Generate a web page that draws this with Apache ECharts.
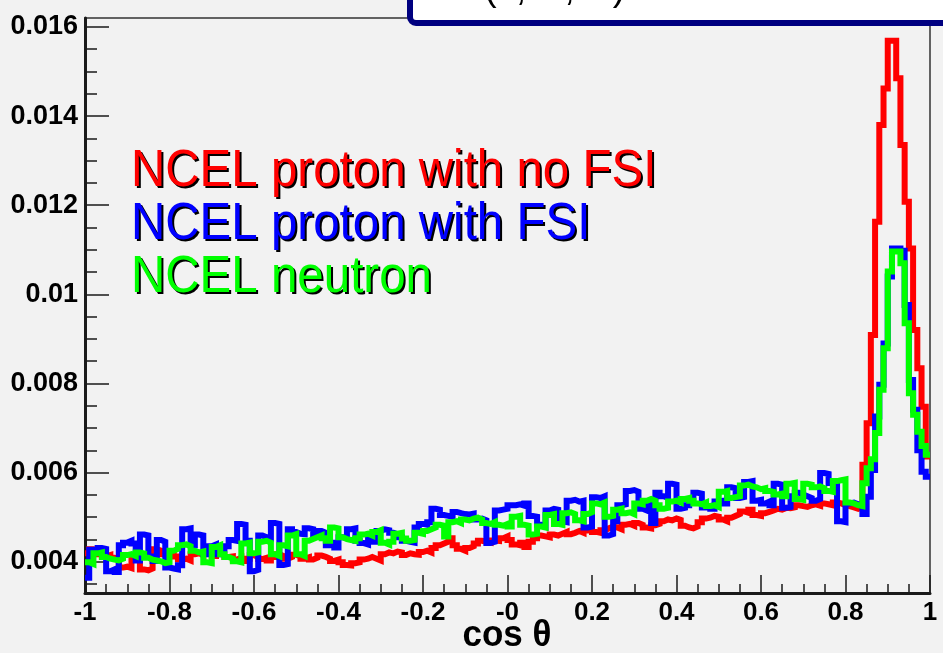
<!DOCTYPE html>
<html>
<head>
<meta charset="utf-8">
<script src="https://cdn.jsdelivr.net/npm/echarts@6/dist/echarts.min.js"></script>
<style>
  html, body { margin: 0; padding: 0; background: #f2f2f2; }
  #chart { width: 943px; height: 653px; }
</style>
</head>
<body>
<div id="chart"></div>
<script>
// Histogram binning along cos(theta)
const xLow = -1;
const xHigh = 1;
const binWidth = 0.01;

// Axis ticks and their printed labels
const xTickValues = [-1, -0.8, -0.6, -0.4, -0.2, 0, 0.2, 0.4, 0.6, 0.8, 1];
const xTickLabels = ['-1', '-0.8', '-0.6', '-0.4', '-0.2', '-0', '0.2', '0.4', '0.6', '0.8', '1'];
const yTickValues = [0.004, 0.006, 0.008, 0.010, 0.012, 0.014, 0.016];
const yTickLabels = ['0.004', '0.006', '0.008', '0.01', '0.012', '0.014', '0.016'];
const yMinorTickValues = [0.0035, 0.0045, 0.005, 0.0055, 0.0065, 0.007, 0.0075, 0.0085, 0.009, 0.0095,
  0.0105, 0.011, 0.0115, 0.0125, 0.013, 0.0135, 0.0145, 0.015, 0.0155];
const yRange = [0.0033, 0.0162];

// Bin contents, 200 bins from -1 to 1
const ncelProtonNoFSI = [
  0.00419, 0.00428, 0.00427, 0.00417, 0.00412, 0.00415, 0.00409, 0.00405, 0.00387, 0.00389,
  0.00386, 0.00405, 0.00403, 0.00383, 0.00381, 0.00385, 0.00428, 0.00425, 0.00417, 0.00415,
  0.00419, 0.00412, 0.00405, 0.00407, 0.00403, 0.00417, 0.00419, 0.00415, 0.00420, 0.00418,
  0.00413, 0.00419, 0.00416, 0.00411, 0.00412, 0.00405, 0.00409, 0.00402, 0.00407, 0.00415,
  0.00411, 0.00406, 0.00409, 0.00403, 0.00411, 0.00417, 0.00413, 0.00407, 0.00411, 0.00416,
  0.00412, 0.00407, 0.00410, 0.00405, 0.00409, 0.00414, 0.00411, 0.00407, 0.00402, 0.00405,
  0.00399, 0.00393, 0.00392, 0.00397, 0.00399, 0.00405, 0.00407, 0.00411, 0.00407, 0.00403,
  0.00417, 0.00421, 0.00419, 0.00423, 0.00421, 0.00415, 0.00419, 0.00417, 0.00416, 0.00422,
  0.00425, 0.00421, 0.00431, 0.00437, 0.00441, 0.00445, 0.00453, 0.00437, 0.00429, 0.00425,
  0.00431, 0.00435, 0.00441, 0.00447, 0.00445, 0.00443, 0.00448, 0.00447, 0.00453, 0.00457,
  0.00449, 0.00439, 0.00437, 0.00443, 0.00433, 0.00445, 0.00453, 0.00459, 0.00457, 0.00455,
  0.00461, 0.00459, 0.00463, 0.00467, 0.00462, 0.00465, 0.00469, 0.00465, 0.00470, 0.00473,
  0.00467, 0.00465, 0.00471, 0.00475, 0.00479, 0.00477, 0.00473, 0.00483, 0.00485, 0.00481,
  0.00487, 0.00483, 0.00477, 0.00475, 0.00482, 0.00485, 0.00491, 0.00495, 0.00493, 0.00497,
  0.00494, 0.00481, 0.00477, 0.00475, 0.00479, 0.00489, 0.00497, 0.00499, 0.00503, 0.00501,
  0.00495, 0.00491, 0.00499, 0.00503, 0.00507, 0.00513, 0.00510, 0.00517, 0.00505, 0.00503,
  0.00509, 0.00512, 0.00515, 0.00519, 0.00517, 0.00521, 0.00520, 0.00522, 0.00527, 0.00525,
  0.00523, 0.00527, 0.00529, 0.00526, 0.00531, 0.00529, 0.00527, 0.00533, 0.00531, 0.00527,
  0.00525, 0.00522, 0.00519, 0.00523, 0.00618, 0.00711, 0.00909, 0.01163, 0.01380, 0.01462,
  0.01569, 0.01569, 0.01485, 0.01335, 0.01208, 0.01103, 0.00920, 0.00834, 0.00748, 0.00636
];

const ncelProtonFSI = [
  0.00364, 0.00427, 0.00425, 0.00431, 0.00429, 0.00379, 0.00383, 0.00377, 0.00437, 0.00443,
  0.00447, 0.00441, 0.00403, 0.00461, 0.00459, 0.00412, 0.00402, 0.00449, 0.00445, 0.00387,
  0.00385, 0.00383, 0.00392, 0.00473, 0.00475, 0.00437, 0.00461, 0.00459, 0.00417, 0.00435,
  0.00439, 0.00417, 0.00427, 0.00435, 0.00449, 0.00447, 0.00485, 0.00483, 0.00447, 0.00379,
  0.00382, 0.00459, 0.00455, 0.00453, 0.00487, 0.00485, 0.00393, 0.00395, 0.00473, 0.00467,
  0.00463, 0.00462, 0.00475, 0.00473, 0.00457, 0.00469, 0.00465, 0.00437, 0.00443, 0.00432,
  0.00455, 0.00453, 0.00473, 0.00475, 0.00447, 0.00442, 0.00439, 0.00452, 0.00445, 0.00469,
  0.00473, 0.00471, 0.00465, 0.00462, 0.00455, 0.00447, 0.00445, 0.00443, 0.00477, 0.00485,
  0.00483, 0.00489, 0.00519, 0.00517, 0.00505, 0.00503, 0.00501, 0.00512, 0.00509, 0.00507,
  0.00506, 0.00508, 0.00495, 0.00497, 0.00493, 0.00442, 0.00445, 0.00515, 0.00517, 0.00519,
  0.00527, 0.00527, 0.00529, 0.00526, 0.00531, 0.00503, 0.00501, 0.00483, 0.00479, 0.00515,
  0.00519, 0.00517, 0.00491, 0.00489, 0.00537, 0.00539, 0.00535, 0.00537, 0.00477, 0.00479,
  0.00545, 0.00543, 0.00547, 0.00459, 0.00462, 0.00491, 0.00527, 0.00529, 0.00559, 0.00561,
  0.00557, 0.00519, 0.00515, 0.00529, 0.00487, 0.00555, 0.00547, 0.00543, 0.00575, 0.00573,
  0.00519, 0.00521, 0.00527, 0.00537, 0.00555, 0.00553, 0.00522, 0.00525, 0.00519, 0.00535,
  0.00537, 0.00531, 0.00567, 0.00565, 0.00543, 0.00545, 0.00579, 0.00581, 0.00537, 0.00539,
  0.00531, 0.00535, 0.00527, 0.00575, 0.00573, 0.00521, 0.00523, 0.00547, 0.00555, 0.00551,
  0.00547, 0.00543, 0.00537, 0.00541, 0.00599, 0.00597, 0.00577, 0.00573, 0.00491, 0.00489,
  0.00531, 0.00533, 0.00529, 0.00527, 0.00507, 0.00546, 0.00606, 0.00726, 0.00797, 0.00890,
  0.01040, 0.01103, 0.01103, 0.01098, 0.00976, 0.00808, 0.00741, 0.00650, 0.00602, 0.00591
];

const ncelNeutron = [
  0.00399, 0.00395, 0.00419, 0.00421, 0.00411, 0.00407, 0.00405, 0.00403, 0.00407, 0.00415,
  0.00417, 0.00413, 0.00421, 0.00419, 0.00409, 0.00405, 0.00403, 0.00401, 0.00397, 0.00399,
  0.00425, 0.00429, 0.00437, 0.00439, 0.00435, 0.00425, 0.00421, 0.00423, 0.00399, 0.00397,
  0.00433, 0.00437, 0.00417, 0.00411, 0.00407, 0.00401, 0.00399, 0.00441, 0.00443, 0.00419,
  0.00421, 0.00445, 0.00447, 0.00443, 0.00417, 0.00413, 0.00437, 0.00435, 0.00459, 0.00462,
  0.00417, 0.00413, 0.00447, 0.00451, 0.00455, 0.00459, 0.00453, 0.00447, 0.00477, 0.00475,
  0.00455, 0.00451, 0.00449, 0.00447, 0.00453, 0.00461, 0.00463, 0.00459, 0.00467, 0.00471,
  0.00443, 0.00439, 0.00445, 0.00463, 0.00465, 0.00452, 0.00447, 0.00449, 0.00465, 0.00463,
  0.00469, 0.00473, 0.00477, 0.00483, 0.00481, 0.00457, 0.00489, 0.00491, 0.00487, 0.00495,
  0.00493, 0.00497, 0.00499, 0.00495, 0.00487, 0.00485, 0.00489, 0.00483, 0.00481, 0.00485,
  0.00479, 0.00501, 0.00503, 0.00483, 0.00481, 0.00461, 0.00463, 0.00479, 0.00477, 0.00505,
  0.00507, 0.00485, 0.00483, 0.00509, 0.00511, 0.00507, 0.00493, 0.00491, 0.00507, 0.00511,
  0.00531, 0.00529, 0.00533, 0.00501, 0.00503, 0.00517, 0.00519, 0.00509, 0.00511, 0.00507,
  0.00531, 0.00529, 0.00537, 0.00541, 0.00537, 0.00527, 0.00519, 0.00521, 0.00535, 0.00537,
  0.00533, 0.00541, 0.00543, 0.00537, 0.00531, 0.00529, 0.00533, 0.00525, 0.00527, 0.00523,
  0.00557, 0.00559, 0.00543, 0.00545, 0.00547, 0.00571, 0.00573, 0.00569, 0.00567, 0.00563,
  0.00565, 0.00559, 0.00557, 0.00551, 0.00553, 0.00547, 0.00575, 0.00577, 0.00541, 0.00539,
  0.00575, 0.00573, 0.00567, 0.00569, 0.00565, 0.00559, 0.00557, 0.00581, 0.00583, 0.00585,
  0.00533, 0.00531, 0.00527, 0.00525, 0.00576, 0.00610, 0.00630, 0.00689, 0.00786, 0.00879,
  0.01051, 0.01096, 0.01096, 0.01070, 0.00935, 0.00778, 0.00730, 0.00692, 0.00660, 0.00640
];

const seriesNames = ['NCEL proton with no FSI', 'NCEL proton with FSI', 'NCEL neutron'];
const seriesColors = ['#ff0000', '#0000ff', '#00ff00'];
const seriesValues = [ncelProtonNoFSI, ncelProtonFSI, ncelNeutron];
const xAxisTitle = 'cos θ';

// Step outline: one point per bin low edge, plus the closing upper edge
function histPoints(values) {
  const pts = values.map((v, i) => [xLow + i * binWidth, v]);
  pts.push([xHigh, values[values.length - 1]]);
  return pts;
}

function lookupLabel(values, labels, v) {
  for (let i = 0; i < values.length; i++) {
    if (Math.abs(values[i] - v) < 1e-9) return labels[i];
  }
  return '';
}

const axisFont = '"Liberation Sans", Arial, Helvetica, sans-serif';
const frameColor = '#1a1a1a';

const chart = echarts.init(document.getElementById('chart'), null, { renderer: 'canvas' });

const option = {
  animation: false,
  backgroundColor: '#f2f2f2',
  grid: {
    left: 85, right: 13, top: 18, bottom: 60,
    containLabel: false, outerBoundsMode: 'none',
    show: true, borderColor: '#333333', borderWidth: 1.5, backgroundColor: 'transparent'
  },
  xAxis: {
    type: 'value',
    min: xLow, max: xHigh, interval: 0.2,
    axisLine: { show: true, onZero: false, lineStyle: { color: frameColor, width: 3 } },
    axisTick: { show: true, inside: true, length: 18, lineStyle: { color: frameColor, width: 1.5 } },
    minorTick: { show: true, splitNumber: 4, length: 9, lineStyle: { color: frameColor, width: 1.5 } },
    axisLabel: {
      show: true, margin: 7, color: '#000', fontFamily: axisFont, fontWeight: 'bold', fontSize: 26,
      formatter: v => lookupLabel(xTickValues, xTickLabels, v)
    },
    splitLine: { show: false },
    minorSplitLine: { show: false }
  },
  yAxis: [
    {
      type: 'value',
      min: yRange[0], max: yRange[1],
      position: 'left',
      axisLine: { show: true, onZero: false, lineStyle: { color: frameColor, width: 3 } },
      axisTick: { show: true, inside: true, length: 24, customValues: yTickValues,
        lineStyle: { color: frameColor, width: 1.5 } },
      axisLabel: {
        show: true, margin: 7, color: '#000', fontFamily: axisFont, fontWeight: 'bold', fontSize: 27,
        customValues: yTickValues,
        formatter: v => lookupLabel(yTickValues, yTickLabels, v)
      },
      splitLine: { show: false }
    },
    {
      type: 'value',
      min: yRange[0], max: yRange[1],
      position: 'left',
      axisLine: { show: false, onZero: false },
      axisTick: { show: true, inside: true, length: 12, customValues: yMinorTickValues,
        lineStyle: { color: frameColor, width: 1.5 } },
      axisLabel: { show: false },
      splitLine: { show: false }
    }
  ],
  series: seriesValues.map((vals, k) => ({
    name: seriesNames[k],
    type: 'line',
    step: 'end',
    yAxisIndex: 0,
    showSymbol: false,
    symbol: 'none',
    data: histPoints(vals),
    lineStyle: { color: seriesColors[k], width: 6, cap: 'butt', join: 'miter' },
    z: 2 + k
  })),
  graphic: []
};

// Axis title under the horizontal axis
option.graphic.push({
  type: 'text', x: 507, y: 617, scaleY: 1.08, z: 5,
  style: { text: xAxisTitle, fill: '#000', font: 'bold 35px "Liberation Sans", Arial, sans-serif',
    textAlign: 'center', textVerticalAlign: 'top' }
});

// Legend-style captions with a dark drop shadow
const captionTop = [146, 199, 252];
const captionLeft = 131;
const captionFont = '47.5px "Liberation Sans", Arial, sans-serif';
seriesNames.forEach((name, k) => {
  option.graphic.push({
    type: 'text', x: captionLeft + 2, y: captionTop[k] + 2, scaleY: 1.08, z: 10,
    style: { text: name, fill: '#000', font: captionFont, textVerticalAlign: 'top' }
  });
  option.graphic.push({
    type: 'text', x: captionLeft, y: captionTop[k], scaleY: 1.08, z: 11,
    style: { text: name, fill: seriesColors[k], font: captionFont, textVerticalAlign: 'top' }
  });
});

// Title pave at the top right, running off the canvas
option.graphic.push({
  type: 'rect', z: 20,
  shape: { x: 410, y: -30, width: 560, height: 53, r: 6 },
  style: { fill: '#ffffff', stroke: '#000080', lineWidth: 6 }
});
option.graphic.push({
  type: 'text', z: 21, x: 484, y: -29,
  style: { text: '(ν, N, N)', fill: '#000', font: '38px "Liberation Sans", Arial, sans-serif',
    textVerticalAlign: 'top' }
});

chart.setOption(option);
</script>
</body>
</html>
